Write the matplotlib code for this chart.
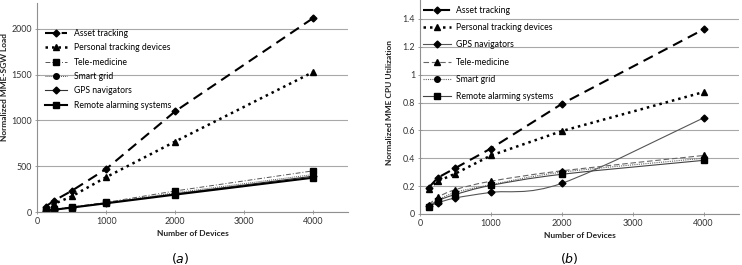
import matplotlib
matplotlib.use("Agg")
import matplotlib.pyplot as plt
from matplotlib.path import Path
from matplotlib.patches import PathPatch
from matplotlib.lines import Line2D
import numpy as np

plt.rcParams['font.family'] = ['Lato', 'DejaVu Sans']

devices = [125, 250, 500, 1000, 2000, 4000]

# (a) normalized MME-SGW load
load_asset = [60, 125, 230, 470, 1100, 2120]
load_personal = [45, 90, 170, 380, 770, 1530]
load_tele = [15, 30, 55, 105, 230, 450]
load_smart = [13, 27, 50, 100, 210, 410]
load_gps = [12, 26, 49, 97, 198, 392]
load_remote = [12, 25, 48, 95, 190, 375]

# (b) normalized MME CPU utilization
cpu_asset = [0.19, 0.26, 0.33, 0.47, 0.79, 1.325]
cpu_personal = [0.18, 0.235, 0.29, 0.42, 0.595, 0.875]
cpu_gps = [0.055, 0.08, 0.115, 0.155, 0.22, 0.69]
cpu_tele = [0.065, 0.12, 0.175, 0.235, 0.31, 0.42]
cpu_smart = [0.06, 0.10, 0.155, 0.21, 0.30, 0.40]
cpu_remote = [0.05, 0.095, 0.14, 0.205, 0.285, 0.385]

GRAY = '#555555'
FS = 5.6


def smooth_path(x, y):
    # Excel-like smoothed line through the points (cubic Bezier)
    pts = np.column_stack([x, y]).astype(float)
    verts = [pts[0]]
    codes = [Path.MOVETO]
    n = len(pts)
    for i in range(n - 1):
        p0 = pts[max(i - 1, 0)]
        p1 = pts[i]
        p2 = pts[i + 1]
        p3 = pts[min(i + 2, n - 1)]
        c1 = p1 + (p2 - p0) / 6.0
        c2 = p2 - (p3 - p1) / 6.0
        verts += [c1, c2, p2]
        codes += [Path.CURVE4] * 3
    return Path(verts, codes)


def style_axes(ax, ymax, ystep, fmt):
    ax.set_xlim(0, 4500)
    ax.set_ylim(0, ymax)
    ax.set_xticks([0, 1000, 2000, 3000, 4000])
    ax.set_xticks([500, 1500, 2500, 3500, 4500], minor=True)
    yt = np.arange(0, ymax, ystep)
    ax.set_yticks(yt)
    ax.set_yticklabels([fmt(v) for v in yt])
    ax.grid(axis='y', color='#a8a8a8', linewidth=0.8)
    ax.set_axisbelow(True)
    for s in ['top', 'right']:
        ax.spines[s].set_visible(False)
    for s in ['left', 'bottom']:
        ax.spines[s].set_color('#909090')
        ax.spines[s].set_linewidth(0.8)
    ax.tick_params(axis='both', which='both', direction='inout', length=3,
                   width=0.6, color='#909090', labelsize=6.4,
                   labelcolor='#333333', pad=2)
    ax.tick_params(axis='x', which='minor', length=0)
    ax.set_xlabel('Number of Devices', fontsize=FS + 0.4, fontweight='bold',
                  color='#222222', labelpad=3)


fig = plt.figure(figsize=(7.42, 2.65), dpi=100)

# ---------------- (a)
ax1 = fig.add_axes([0.0499, 0.2, 0.419, 0.789])
series_a = [
    ("Asset tracking", load_asset, dict(color='black', ls=(0, (5, 3)), lw=1.5, marker='D', ms=3.5)),
    ("Personal tracking devices", load_personal, dict(color='black', ls=(0, (1, 1.6)), lw=1.8, marker='^', ms=4.5)),
    ("Tele-medicine", load_tele, dict(color=GRAY, ls=(0, (5, 2, 1, 2)), lw=0.7, marker='s', ms=4, mfc='black', mec='black')),
    ("Smart grid", load_smart, dict(color=GRAY, ls=(0, (1, 1)), lw=0.7, marker='o', ms=4, mfc='black', mec='black')),
    ("GPS navigators", load_gps, dict(color='#333333', ls='-', lw=0.8, marker='D', ms=3.5, mfc='black', mec='black')),
    ("Remote alarming systems", load_remote, dict(color='black', ls='-', lw=1.5, marker='s', ms=4.5)),
]
for name, vals, kw in series_a:
    ax1.plot(devices, vals, label=name, **kw)
style_axes(ax1, 2284, 500, lambda v: '%d' % v)
ax1.set_ylabel('Normalized MME-SGW Load', fontsize=FS + 0.4, fontweight='bold',
               color='#222222', labelpad=4)
ax1.yaxis.set_label_coords(-0.094, 0.6)
fig.legend(*ax1.get_legend_handles_labels(), loc='upper left',
           bbox_to_anchor=(0.0606, 0.891), frameon=False, fontsize=FS + 0.6,
           borderpad=0, borderaxespad=0, handlelength=2.6, handletextpad=0.8,
           labelspacing=0.62)
fig.text(180 / 742, 1 - 258 / 265, '$(a)$', fontsize=9, ha='center', va='center')

# ---------------- (b)
ax2 = fig.add_axes([0.566, 0.1925, 0.430, 0.8075])
series_b = [
    ("Asset tracking", cpu_asset, dict(color='black', ls=(0, (5, 3)), lw=1.5, marker='D', ms=3.5), False),
    ("Personal tracking devices", cpu_personal, dict(color='black', ls=(0, (1, 1.6)), lw=1.8, marker='^', ms=4.5), False),
    ("GPS navigators", cpu_gps, dict(color='#555555', ls='-', lw=0.8, marker='D', ms=3.5, mfc='black', mec='black'), True),
    ("Tele-medicine", cpu_tele, dict(color='#666666', ls=(0, (5, 2.5)), lw=0.8, marker='^', ms=4, mfc='black', mec='black'), True),
    ("Smart grid", cpu_smart, dict(color='#666666', ls=(0, (1, 1)), lw=0.8, marker='o', ms=4, mfc='black', mec='black'), True),
    ("Remote alarming systems", cpu_remote, dict(color='#444444', ls='-', lw=0.8, marker='s', ms=4, mfc='black', mec='black'), True),
]
handles = []
for name, vals, kw, smooth in series_b:
    if smooth:
        patch = PathPatch(smooth_path(devices, vals), fill=False, edgecolor=kw['color'],
                          lw=kw['lw'], linestyle=kw['ls'])
        ax2.add_patch(patch)
        ax2.plot(devices, vals, ls='none', marker=kw['marker'], ms=kw['ms'], color='black')
        handles.append(Line2D([], [], label=name, **kw))
    else:
        h, = ax2.plot(devices, vals, label=name, **kw)
        handles.append(h)
style_axes(ax2, 1.536, 0.2, lambda v: ('%.1f' % v).rstrip('0').rstrip('.') if v else '0')
ax2.set_ylabel('Normalized MME CPU Utilization', fontsize=FS + 0.4, fontweight='bold',
               color='#222222', labelpad=4)
ax2.yaxis.set_label_coords(-0.085, 0.52)
fig.legend(handles=handles, loc='upper left', bbox_to_anchor=(0.570, 0.977),
           frameon=False, fontsize=FS + 0.6, borderpad=0, borderaxespad=0,
           handlelength=3.3, handletextpad=0.5, labelspacing=0.95)
fig.text(569 / 742, 1 - 259 / 265, '$(b)$', fontsize=9, ha='center', va='center')

fig.savefig('out.png', dpi=100, facecolor='white')
